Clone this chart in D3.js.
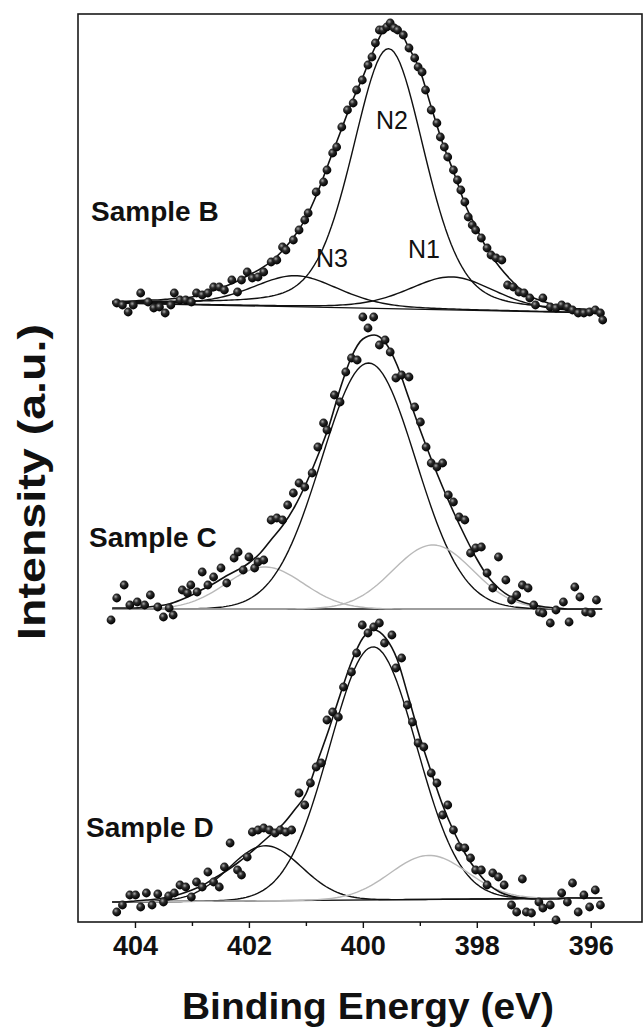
<!DOCTYPE html>
<html><head><meta charset="utf-8">
<script src="https://cdn.jsdelivr.net/npm/d3@7"></script>
<style>
html,body{margin:0;padding:0;background:#fff;}
svg{display:block;font-family:"Liberation Sans",Arial,Helvetica,sans-serif;}
</style></head><body>
<svg id="chart" width="644" height="1034"></svg>
<script>
// ---------------- DATA ----------------
const sampleNames = ["Sample B", "Sample C", "Sample D"];
const stackOffset = [609, 313, 20];          // vertical stacking offset (a.u.)
const bgEnergy = [404.4, 395.8];             // background line end energies
const bgStart = [10, 0, 0];                  // background value at 404.4 eV
const bgEnd = [0, 0, 4];                     // background value at 395.8 eV

const tickMajor = [404, 402, 400, 398, 396];
const tickMinor = [403, 401, 399, 397];

// fitted envelope
const envEnergy = [404.4,404.2,404.0,403.8,403.6,403.4,403.2,403.0,402.8,402.6,402.4,402.2,402.0,401.8,401.6,401.4,401.2,401.0,400.8,400.6,400.4,400.2,400.0,399.8,399.6,399.4,399.2,399.0,398.8,398.6,398.4,398.2,398.0,397.8,397.6,397.4,397.2,397.0,396.8,396.6,396.4,396.2,396.0,395.8];
const envB = [11,11,12,13,13,14,15,16,19,23,27,32,38,44,52,63,77,95,120,150,180,210,236,264,284,285,266,243,206,170,140,108,84,62,46,33,22,15,11,7,5,3,2,1];
const envC = [1,1,1,2,3,5,9,14,20,26,33,39,46,56,70,84,102,125,152,182,220,252,270,274,266,244,212,180,150,122,96,72,50,32,20,12,7,4,2,1,0,0,0,0];
const envD = [0,0,1,2,3,5,8,12,17,24,31,39,48,58,68,78,92,108,140,172,207,240,264,272,264,243,205,165,130,97,70,48,31,18,10,6,4,3,3,3,4,4,4,4];

// fitted components N3, N2, N1 per sample (center eV, height a.u., FWHM eV, Lorentzian fraction)
const peakNames = ["N3", "N2", "N1"];
const peakCenter = [[401.18, 399.55, 398.44], [401.72, 399.90, 398.77], [401.71, 399.82, 398.84]];
const peakHeight = [[31, 260, 33], [42, 246, 64], [55, 253, 44]];
const peakFwhm   = [[1.8, 1.5, 1.8], [1.6, 1.95, 1.65], [1.5, 1.8, 1.6]];
const peakMix    = [[0.3, 0.3, 0.3], [0, 0, 0], [0, 0, 0]];

// measured points [binding energy, intensity]
const dotsB = [[404.32,10],[404.22,8],[404.12,1],[404.03,8],[403.9,20],[403.77,11],[403.67,5],[403.57,6],[403.47,0],[403.37,8],[403.31,20],[403.21,13],[403.11,13],[403.01,11],[402.92,20],[402.82,18],[402.72,20],[402.62,26],[402.52,26],[402.43,23],[402.3,33],[402.2,21],[402.13,33],[402.03,41],[401.94,35],[401.84,36],[401.74,41],[401.61,51],[401.51,53],[401.41,66],[401.35,63],[401.22,73],[401.12,83],[401.02,93],[400.96,100],[400.82,121],[400.69,131],[400.63,143],[400.53,160],[400.46,166],[400.37,186],[400.27,203],[400.17,210],[400.11,223],[400.01,233],[399.91,248],[399.84,256],[399.78,270],[399.71,283],[399.65,283],[399.58,286],[399.52,290],[399.45,285],[399.39,283],[399.29,278],[399.19,265],[399.09,255],[399.03,246],[398.96,241],[398.9,223],[398.8,203],[398.7,190],[398.64,176],[398.57,166],[398.51,156],[398.41,143],[398.34,133],[398.28,123],[398.21,111],[398.15,96],[398.08,88],[398.02,83],[397.92,75],[397.82,65],[397.75,58],[397.66,55],[397.56,53],[397.46,28],[397.36,26],[397.26,21],[397.17,20],[397.07,15],[396.97,8],[396.84,15],[396.71,6],[396.61,5],[396.51,8],[396.41,6],[396.32,3],[396.22,0],[396.12,0],[396.02,1],[395.92,3],[395.83,0],[395.79,-7]];
const dotsC = [[404.42,-11],[404.32,11],[404.19,24],[404.09,4],[403.96,7],[403.83,4],[403.73,14],[403.6,2],[403.5,-8],[403.4,1],[403.33,-6],[403.17,19],[403.08,16],[403.02,24],[402.91,17],[402.82,37],[402.72,24],[402.62,32],[402.49,41],[402.39,26],[402.26,51],[402.19,57],[402.1,39],[402.0,52],[401.9,41],[401.84,47],[401.74,49],[401.61,89],[401.51,91],[401.41,89],[401.32,104],[401.22,116],[401.12,126],[401.02,122],[400.89,136],[400.79,162],[400.69,186],[400.63,179],[400.5,214],[400.4,207],[400.3,237],[400.2,251],[400.1,249],[400.0,292],[399.91,281],[399.81,292],[399.71,264],[399.61,269],[399.52,257],[399.42,231],[399.32,234],[399.19,232],[399.09,202],[398.99,187],[398.89,162],[398.8,146],[398.7,142],[398.6,146],[398.5,114],[398.41,107],[398.31,92],[398.21,89],[398.11,56],[398.02,61],[397.92,62],[397.82,36],[397.72,21],[397.62,52],[397.49,29],[397.39,9],[397.3,14],[397.2,24],[397.1,21],[397.0,4],[396.9,-3],[396.84,-4],[396.71,-14],[396.61,-1],[396.48,7],[396.38,-13],[396.28,22],[396.19,12],[396.09,-3],[395.99,-4],[395.9,9]];
const dotsD = [[404.32,-10],[404.22,-3],[404.09,7],[403.99,7],[403.9,-5],[403.8,9],[403.7,-3],[403.6,8],[403.5,0],[403.41,6],[403.31,9],[403.21,17],[403.11,15],[403.01,5],[402.92,20],[402.82,15],[402.72,30],[402.62,20],[402.52,15],[402.43,35],[402.33,59],[402.2,32],[402.13,27],[402.03,45],[401.94,70],[401.84,72],[401.74,74],[401.64,72],[401.54,69],[401.45,72],[401.35,70],[401.25,72],[401.12,109],[401.02,97],[400.92,119],[400.82,135],[400.73,139],[400.63,182],[400.53,190],[400.43,185],[400.34,215],[400.2,230],[400.11,249],[400.01,277],[399.91,269],[399.81,275],[399.71,279],[399.62,259],[399.49,267],[399.42,234],[399.32,244],[399.22,197],[399.13,180],[399.03,159],[398.93,155],[398.8,129],[398.7,119],[398.6,87],[398.51,97],[398.41,72],[398.31,55],[398.21,54],[398.11,44],[398.02,32],[397.92,32],[397.82,17],[397.72,29],[397.62,25],[397.52,17],[397.39,-3],[397.3,-10],[397.2,23],[397.13,-10],[397.04,-11],[396.91,0],[396.84,-6],[396.71,-3],[396.61,-18],[396.51,9],[396.41,0],[396.32,19],[396.22,-10],[396.12,7],[396.02,-5],[395.92,12],[395.83,-3]];

// ---------------- LAYOUT / STYLE ----------------
const plot = {left: 78, right: 642, top: 14, bottom: 922};
const BLACK = "#111", GRAY = "#b9b9b9";
const peakColor = [[BLACK, BLACK, BLACK], [GRAY, BLACK, GRAY], [BLACK, BLACK, GRAY]];

const svg = d3.select("#chart");
const x = d3.scaleLinear().domain([405, 395.1]).range([plot.left, plot.right]);
const y = d3.scaleLinear().domain([0, 908]).range([plot.bottom, plot.top]);

const defs = svg.append("defs");
const grad = defs.append("radialGradient").attr("id", "ball")
  .attr("cx", "38%").attr("cy", "35%").attr("r", "65%");
grad.append("stop").attr("offset", "0%").attr("stop-color", "#a8a8a8");
grad.append("stop").attr("offset", "40%").attr("stop-color", "#2c2c2c");
grad.append("stop").attr("offset", "100%").attr("stop-color", "#000");

const envs = [envB, envC, envD];
const dots = [dotsB, dotsC, dotsD];

function bgAt(s, E) {
  return bgStart[s] + (bgEnd[s] - bgStart[s]) * (bgEnergy[0] - E) / (bgEnergy[0] - bgEnergy[1]);
}
function peakAt(s, k, E) {
  const u = (E - peakCenter[s][k]) / peakFwhm[s][k];
  const m = peakMix[s][k];
  return peakHeight[s][k] * ((1 - m) * Math.exp(-4 * Math.LN2 * u * u) + m / (1 + 4 * u * u));
}
const drawE = d3.range(0, 173).map(i => bgEnergy[0] - i * 0.05);

const line = d3.line().x(d => x(d[0])).y(d => y(d[1]));
const smooth = d3.line().x(d => x(d[0])).y(d => y(d[1])).curve(d3.curveMonotoneX);

const gLines = svg.append("g").attr("fill", "none").attr("stroke-linejoin", "round");
const samples = sampleNames.map((n, s) => s);
samples.forEach(s => {
  const off = stackOffset[s];
  gLines.append("path")
    .attr("d", line(bgEnergy.map(E => [E, off + bgAt(s, E)])))
    .attr("stroke", BLACK).attr("stroke-width", 1.4);
  peakNames.forEach((p, k) => {
    gLines.append("path")
      .attr("d", line(drawE.map(E => [E, off + bgAt(s, E) + peakAt(s, k, E)])))
      .attr("stroke", peakColor[s][k]).attr("stroke-width", 1.4);
  });
  gLines.append("path")
    .attr("d", smooth(envEnergy.map((E, i) => [E, off + envs[s][i]])))
    .attr("stroke", BLACK).attr("stroke-width", 1.6);
});

samples.forEach(s => {
  svg.append("g").selectAll("circle").data(dots[s]).join("circle")
    .attr("cx", d => x(d[0])).attr("cy", d => y(stackOffset[s] + d[1]))
    .attr("r", 4.4).attr("fill", "url(#ball)");
});

svg.append("rect").attr("x", plot.left).attr("y", plot.top)
  .attr("width", plot.right - plot.left).attr("height", plot.bottom - plot.top)
  .attr("fill", "none").attr("stroke", "#1a1a1a").attr("stroke-width", 1.6);

const ax = svg.append("g").attr("transform", `translate(0,${plot.bottom})`)
  .call(d3.axisBottom(x).tickValues(tickMajor).tickSize(6).tickPadding(8).tickFormat(d3.format("d")));
ax.select(".domain").remove();
ax.selectAll("line").attr("stroke", BLACK).attr("stroke-width", 1.4);
ax.selectAll("text").attr("font-size", 27).attr("font-weight", "bold").attr("fill", BLACK)
  .attr("font-family", "'Liberation Sans', Arial, sans-serif");
const axm = svg.append("g").attr("transform", `translate(0,${plot.bottom})`)
  .call(d3.axisBottom(x).tickValues(tickMinor).tickSize(4).tickFormat(""));
axm.select(".domain").remove();
axm.selectAll("line").attr("stroke", BLACK).attr("stroke-width", 1.4);

svg.append("text").attr("x", 368).attr("y", 1019).attr("text-anchor", "middle")
  .attr("font-size", 37).attr("font-weight", "bold").attr("fill", BLACK)
  .attr("textLength", 372).attr("lengthAdjust", "spacingAndGlyphs")
  .text("Binding Energy (eV)");
svg.append("text").attr("transform", "translate(45,482) rotate(-90)").attr("text-anchor", "middle")
  .attr("font-size", 38).attr("font-weight", "bold").attr("fill", BLACK)
  .attr("textLength", 316).attr("lengthAdjust", "spacingAndGlyphs")
  .text("Intensity (a.u.)");

const sampleLabelPos = [[91, 221], [89, 547], [86, 837]];
sampleNames.forEach((n, s) => {
  svg.append("text").attr("x", sampleLabelPos[s][0]).attr("y", sampleLabelPos[s][1])
    .attr("font-size", 28).attr("font-weight", "bold").attr("fill", BLACK).text(n);
});
const peakLabelPos = [[332, 267], [392, 129], [424, 258]];
peakNames.forEach((p, k) => {
  svg.append("text").attr("x", peakLabelPos[k][0]).attr("y", peakLabelPos[k][1])
    .attr("text-anchor", "middle").attr("font-size", 25).attr("fill", BLACK).text(p);
});
</script>
</body></html>
